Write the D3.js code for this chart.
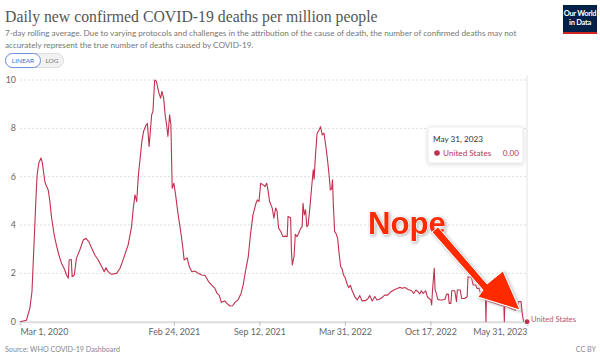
<!DOCTYPE html>
<html><head><meta charset="utf-8">
<script src="https://cdn.jsdelivr.net/npm/d3@7"></script>
<style>
body{margin:0;background:#fff;}
svg{display:block;}
</style></head>
<body>
<svg id="chart" width="600" height="358"></svg>
<script>
const dates = ["2020-03-01","2020-03-16","2020-03-24","2020-03-29","2020-04-03","2020-04-07","2020-04-10","2020-04-14","2020-04-19","2020-04-22","2020-04-26","2020-04-28","2020-05-02","2020-05-06","2020-05-10","2020-05-14","2020-05-20","2020-05-25","2020-05-31","2020-06-06","2020-06-12","2020-06-18","2020-06-22","2020-06-24","2020-06-29","2020-07-01","2020-07-06","2020-07-11","2020-07-19","2020-07-27","2020-08-02","2020-08-09","2020-08-17","2020-08-23","2020-08-31","2020-09-08","2020-09-14","2020-09-18","2020-09-23","2020-10-01","2020-10-13","2020-10-21","2020-10-28","2020-11-09","2020-11-17","2020-11-21","2020-11-25","2020-11-29","2020-12-03","2020-12-11","2020-12-15","2020-12-21","2020-12-24","2020-12-28","2021-01-03","2021-01-06","2021-01-10","2021-01-14","2021-01-20","2021-01-24","2021-01-27","2021-01-31","2021-02-04","2021-02-07","2021-02-10","2021-02-14","2021-02-17","2021-02-20","2021-02-24","2021-02-28","2021-03-06","2021-03-12","2021-03-17","2021-03-20","2021-03-27","2021-04-01","2021-04-07","2021-04-14","2021-04-22","2021-04-30","2021-05-08","2021-05-16","2021-05-24","2021-05-31","2021-06-05","2021-06-10","2021-06-15","2021-06-23","2021-06-28","2021-07-05","2021-07-11","2021-07-17","2021-07-24","2021-07-31","2021-08-05","2021-08-11","2021-08-17","2021-08-22","2021-08-28","2021-09-04","2021-09-07","2021-09-11","2021-09-15","2021-09-21","2021-09-25","2021-09-29","2021-10-02","2021-10-06","2021-10-12","2021-10-16","2021-10-20","2021-10-23","2021-10-27","2021-11-01","2021-11-06","2021-11-12","2021-11-16","2021-11-18","2021-11-24","2021-11-26","2021-11-28","2021-12-02","2021-12-05","2021-12-09","2021-12-13","2021-12-17","2021-12-21","2021-12-23","2021-12-26","2021-12-29","2022-01-01","2022-01-04","2022-01-08","2022-01-12","2022-01-16","2022-01-18","2022-01-21","2022-01-25","2022-01-30","2022-02-02","2022-02-06","2022-02-10","2022-02-14","2022-02-18","2022-02-22","2022-02-25","2022-02-28","2022-03-02","2022-03-04","2022-03-07","2022-03-10","2022-03-14","2022-03-17","2022-03-21","2022-03-24","2022-03-28","2022-04-01","2022-04-06","2022-04-09","2022-04-13","2022-04-17","2022-04-23","2022-04-29","2022-05-05","2022-05-10","2022-05-17","2022-05-23","2022-05-28","2022-06-03","2022-06-09","2022-06-14","2022-06-21","2022-06-26","2022-07-02","2022-07-09","2022-07-17","2022-07-26","2022-08-06","2022-08-13","2022-08-18","2022-08-26","2022-09-03","2022-09-08","2022-09-13","2022-09-18","2022-09-22","2022-09-26","2022-09-30","2022-10-06","2022-10-10","2022-10-14","2022-10-18","2022-10-20","2022-10-22","2022-10-26","2022-10-28","2022-10-31","2022-11-03","2022-11-08","2022-11-14","2022-11-20","2022-11-24","2022-11-28","2022-11-30","2022-12-04","2022-12-06","2022-12-13","2022-12-17","2022-12-19","2022-12-26","2022-12-29","2023-01-05","2023-01-11","2023-01-13","2023-01-21","2023-01-25","2023-01-31","2023-02-03","2023-02-08","2023-02-11","2023-02-17","2023-02-23","2023-02-24","2023-02-25","2023-03-05","2023-03-17","2023-03-29","2023-04-07","2023-04-08","2023-04-09","2023-04-18","2023-04-28","2023-05-03","2023-05-07","2023-05-11","2023-05-17","2023-05-20","2023-05-23","2023-05-31"];
const usDeaths = [0,0.06,0.55,1.24,3.3,4.97,6.07,6.56,6.77,6.6,6.07,5.8,5.6,5.45,4.97,4.28,3.59,3.18,2.76,2.42,2.21,1.93,1.8,2.55,2.57,1.86,1.93,2.62,2.97,3.38,3.45,3.31,3.0,2.76,2.55,2.28,2.07,2.23,2.07,1.96,2.0,2.21,2.55,3.18,3.93,4.7,5.25,4.97,6.07,7.45,7.87,8.14,8.2,7.25,8.56,8.7,10.0,9.94,9.46,9.25,9.53,9.25,8.49,8.14,7.66,8.56,8.14,5.52,5.73,5.25,4.42,3.73,3.04,2.55,2.64,2.28,2.07,2.1,2.0,1.93,1.91,1.66,1.5,1.38,1.17,1.1,0.8,0.86,0.76,0.65,0.66,0.8,0.9,1.17,1.52,2.14,2.69,3.59,4.42,4.9,5.04,4.97,5.73,5.66,5.59,5.73,5.45,4.97,4.7,4.28,4.7,4.6,3.87,3.73,3.52,3.54,3.52,4.35,4.3,2.9,2.35,2.69,3.62,3.52,3.66,3.84,3.93,4.9,4.42,4.63,3.93,4.0,4.7,5.52,6.28,5.9,6.83,7.8,7.94,8.07,7.73,7.8,7.32,6.76,6.07,5.45,5.5,5.87,4.83,3.73,3.66,3.45,2.9,2.28,2.21,1.93,1.8,1.52,1.41,1.5,1.28,1.04,0.9,1.08,0.86,0.87,0.93,1.08,0.86,1.04,0.9,0.94,1.0,1.1,1.1,1.24,1.33,1.42,1.38,1.42,1.33,1.28,1.17,1.31,1.24,1.15,1.28,1.17,1.28,1.03,0.96,0.9,0.69,1.31,2.21,1.31,1.17,0.93,0.9,0.9,0.93,1.14,1.14,0.76,0.76,1.28,1.28,0.83,1.31,1.31,0.96,0.96,1.03,1.86,1.83,1.52,1.52,1.38,1.38,1.17,1.03,0.9,0,0.9,0.83,0.76,0.69,0.65,0,0.65,0.59,0.52,0.47,0.55,0.83,0.83,0.33,0,0];
const yTicks = [0,2,4,6,8,10];
const xTickDates = ["2020-03-01","2021-02-24","2021-09-12","2022-03-31","2022-10-17","2023-05-31"];
const seriesName = "United States";
const hoverDate = "2023-05-31";
const hoverValue = "0.00";

const parse = d3.timeParse("%Y-%m-%d");
const fmt = d3.timeFormat("%b %-d, %Y");
const data = dates.map((d,i)=>({date:parse(d), value:usDeaths[i]}));
const svg = d3.select("#chart");
const lineColor = "#c0304f";
const labelColor = "#b8375a";
const plotL = 20, plotR = 527, plotT = 80, plotB = 321.7;
const sans = "Lato, 'Noto Sans', sans-serif";

// scale a text's font-size so its rendered width equals w
function fit(sel, w){
  const fs = +sel.attr("font-size");
  const cur = sel.node().getComputedTextLength();
  if (cur > 0) sel.attr("font-size", fs * w / cur);
  return +sel.attr("font-size");
}
// measure font-size for a string to have width w
function sizeFor(str, w, family, weight){
  const t = svg.append("text").attr("font-family",family).attr("font-weight",weight||"normal").attr("font-size",10).text(str);
  const fs = fit(t, w); t.remove(); return fs;
}

const x = d3.scaleTime().domain([parse("2020-03-01"), parse("2023-05-31")]).range([plotL,plotR]);
const y = d3.scaleLinear().domain([0,10]).range([plotB, plotT]);

// Title
const title = svg.append("text").attr("x",5).attr("y",22)
  .attr("font-family","'Liberation Serif', 'DejaVu Serif', serif").attr("font-size",18).attr("fill","#555")
  .text("Daily new confirmed COVID-19 deaths per million people");
fit(title, 373);
const subFs = sizeFor("7-day rolling average. Due to varying protocols and challenges in the attribution of the cause of death, the number of confirmed deaths may not", 512, sans);
const sub = svg.append("g").attr("font-family",sans).attr("font-size",subFs).attr("fill","#777");
sub.append("text").attr("x",5).attr("y",36).text("7-day rolling average. Due to varying protocols and challenges in the attribution of the cause of death, the number of confirmed deaths may not");
sub.append("text").attr("x",5).attr("y",48).text("accurately represent the true number of deaths caused by COVID-19.");

// Logo
const logo = svg.append("g");
logo.append("rect").attr("x",563).attr("y",5).attr("width",34).attr("height",29).attr("fill","#002147");
logo.append("rect").attr("x",563).attr("y",32).attr("width",34).attr("height",2).attr("fill","#ce261e");
logo.append("text").attr("x",580).attr("y",16).attr("text-anchor","middle").attr("font-family",sans).attr("font-weight","bold").attr("font-size",7.5).attr("fill","#fff").attr("letter-spacing",-0.3).text("Our World");
logo.append("text").attr("x",580).attr("y",25).attr("text-anchor","middle").attr("font-family",sans).attr("font-weight","bold").attr("font-size",7.5).attr("fill","#fff").attr("letter-spacing",-0.3).text("in Data");

// LINEAR / LOG toggle
const tg = svg.append("g").attr("font-family",sans).attr("font-size",6.5);
tg.append("rect").attr("x",5.5).attr("y",53.5).attr("width",58).attr("height",14).attr("rx",7).attr("fill","#f2f2f2").attr("stroke","#ddd");
tg.append("rect").attr("x",5.5).attr("y",53.5).attr("width",35).attr("height",14).attr("rx",7).attr("fill","#fff").attr("stroke","#6d8fdc");
tg.append("text").attr("x",23).attr("y",63).attr("text-anchor","middle").attr("fill","#3f6fd0").text("LINEAR");
tg.append("text").attr("x",52).attr("y",63).attr("text-anchor","middle").attr("fill","#777").text("LOG");

const axFs = sizeFor("Mar 1, 2020", 48, sans);

// Grid + y labels
const gy = svg.append("g");
gy.selectAll("line").data(yTicks.filter(t=>t>0)).join("line")
  .attr("x1",plotL).attr("x2",plotR).attr("y1",d=>y(d)).attr("y2",d=>y(d))
  .attr("stroke","#ddd").attr("stroke-dasharray","2,2");
gy.selectAll("text").data(yTicks).join("text")
  .attr("x",16).attr("y",d=>y(d)).attr("dy","0.35em").attr("text-anchor","end")
  .attr("font-family",sans).attr("font-size",axFs).attr("fill","#666").text(d=>d);

// x axis
const xAxis = d3.axisBottom(x).tickValues(xTickDates.map(parse)).tickFormat(fmt).tickSize(4).tickPadding(3);
const ax = svg.append("g").attr("transform",`translate(0,${plotB})`).call(xAxis);
ax.select(".domain").attr("stroke","#ddd").attr("stroke-width",2);
ax.selectAll(".tick line").attr("stroke","#bbb");
ax.selectAll(".tick text").attr("font-family",sans).attr("font-size",axFs).attr("fill","#666")
  .attr("text-anchor",(d,i)=> i===0 ? "start" : (i===xTickDates.length-1 ? "end":"middle"));
ax.selectAll(".tick").filter((d,i)=>i===0).select("line").remove();

// hover line
svg.append("line").attr("x1",x(parse(hoverDate))).attr("x2",x(parse(hoverDate))).attr("y1",75).attr("y2",plotB)
  .attr("stroke","#e2e2e2").attr("stroke-width",1);

// series line
svg.append("path").datum(data).attr("fill","none").attr("stroke",lineColor).attr("stroke-width",1.1)
  .attr("stroke-linejoin","round")
  .attr("d",d3.line().x(d=>x(d.date)).y(d=>y(d.value)));

// endpoint
const last = data[data.length-1];
svg.append("circle").attr("cx",x(last.date)).attr("cy",y(last.value)).attr("r",3).attr("fill",lineColor).attr("stroke","#fff").attr("stroke-width",1);
const endLab = svg.append("text").attr("x",x(last.date)+4).attr("y",y(last.value)).attr("dy","0.1em")
  .attr("font-family",sans).attr("font-size",8.5).attr("fill","#c0506a").text(seriesName);
fit(endLab, 45);

// tooltip
const ttFs = sizeFor(fmt(parse(hoverDate)), 50, sans);
const tt = svg.append("g");
tt.append("rect").attr("x",428).attr("y",127).attr("width",95).attr("height",36).attr("fill","#fff").attr("rx",2)
  .attr("stroke","#eee").style("filter","drop-shadow(0 1px 2px rgba(0,0,0,0.15))");
tt.append("text").attr("x",433).attr("y",141.5).attr("font-family",sans).attr("font-size",ttFs).attr("fill","#333")
  .text(fmt(parse(hoverDate)));
tt.append("circle").attr("cx",437).attr("cy",153).attr("r",2.8).attr("fill",lineColor);
tt.append("text").attr("x",443).attr("y",156).attr("font-family",sans).attr("font-size",ttFs).attr("fill",labelColor).text(seriesName);
tt.append("text").attr("x",519).attr("y",156).attr("text-anchor","end").attr("font-family",sans).attr("font-size",ttFs).attr("fill",labelColor).text(hoverValue);

// Footer
const src = svg.append("text").attr("x",5).attr("y",352).attr("font-family",sans).attr("font-size",8.5).attr("fill","#888").text("Source: WHO COVID-19 Dashboard");
const srcFs = fit(src, 115);
svg.append("text").attr("x",596).attr("y",352).attr("text-anchor","end").attr("font-family",sans).attr("font-size",srcFs).attr("fill","#888").text("CC BY");

// Annotation "Nope" with arrow
const ann = svg.append("g").style("filter","drop-shadow(0 0 1.5px #fff) drop-shadow(1px 1px 1px rgba(0,0,0,0.35))");
const nope = ann.append("text").attr("x",368).attr("y",234).attr("font-family","'Liberation Sans', Arial, sans-serif").attr("font-weight","bold")
  .attr("font-size",30).attr("fill","#ff2a00").attr("stroke","#fff").attr("stroke-width",1).attr("paint-order","stroke").text("Nope");
fit(nope, 78);
ann.append("path").attr("d","M432,232 L438,227 L487,284 L503,271 L520,310 L478,297 L483,290 Z")
  .attr("fill","#ff2a00").attr("stroke","#fff").attr("stroke-width",1);
</script>
</body></html>
